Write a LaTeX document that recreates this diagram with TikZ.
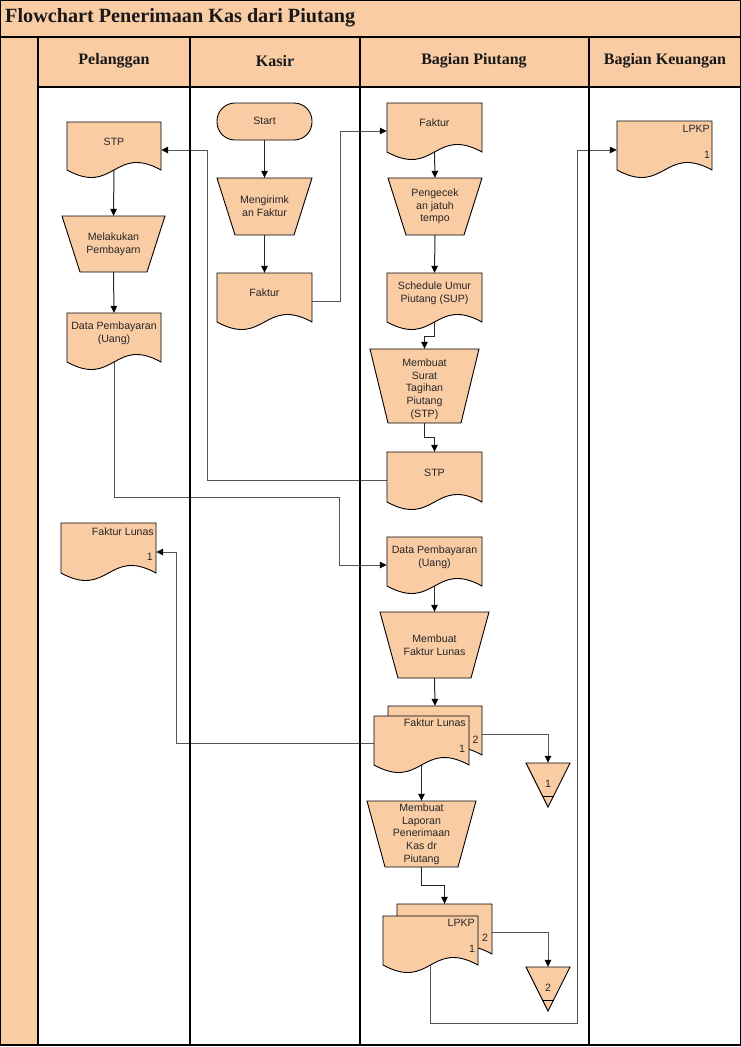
\documentclass[tikz,border=0pt]{standalone}
\usepackage{fontspec}
\setmainfont{Liberation Sans}
\newfontfamily\headfont{Liberation Serif}
\usetikzlibrary{arrows.meta,fit,calc}
\definecolor{peach}{RGB}{250,204,164}
\definecolor{conngray}{RGB}{85,85,85}
\pgfdeclarelayer{bg}
\pgfsetlayers{bg,main}
\tikzset{
  shp/.style={draw=black, fill=peach, line width=0.9pt},
  lane/.style={draw=black, line width=1.3pt},
  txt/.style={font=\fontsize{10.6}{12.7}\selectfont, align=center, inner sep=0pt, text=black!85},
  hdr/.style={font=\headfont\bfseries\fontsize{16}{18}\selectfont, inner sep=0pt, text=black!90},
  box/.style={inner sep=0pt, draw=none},
  conn/.style={draw=black!85, line width=1pt, -{Triangle[length=7pt,width=6.5pt,color=black]}},
  connl/.style={draw=conngray, line width=1pt, -{Triangle[length=7pt,width=6.5pt,color=black]}},
}
% document shape: l, t, r, b
\newcommand\docshape[4]{%
  \draw[shp] (#1,#2) -- (#3,#2) -- (#3,#4) .. controls ({(#1+#3)/2},{#4-26}) and ({(#1+#3)/2},{#4+26}) .. (#1,#4) -- cycle;}
\newcommand\docnode[6]{%
  \docshape{#2}{#3}{#4}{#5}
  \node[box, fit={(#2,#3) (#4,#5)}] (#1) {};
  \node[txt] (#1-t) at ({(#2+#4)/2},{(#3+#5)/2-4.5}) {#6};}
% trapezoid (manual operation): name, l, t, r, b, text, text y-offset
\newcommand\trapnode[7]{%
  \draw[shp] (#2,#3) -- (#4,#3) -- ({#4-18},#5) -- ({#2+18},#5) -- cycle;
  \node[box, fit={(#2,#3) (#4,#5)}] (#1) {};
  \node[txt] (#1-t) at ({(#2+#4)/2},{(#3+#5)/2+#7}) {#6};}
% off-page connector: name, cx, top, label
\newcommand\offpage[4]{%
  \draw[shp] ({#2-22},#3) -- ({#2+22},#3) -- (#2,{#3+44}) -- cycle;
  \draw[line width=0.8pt] ({#2-5.5},{#3+33}) -- ({#2+5.5},{#3+33});
  \node[box, fit={({#2-22},#3) ({#2+22},{#3+44})}] (#1) {};
  \node[txt] (#1-t) at (#2,{#3+21}) {#4};}
\begin{document}
\begin{tikzpicture}[x=1pt,y=-1pt]
\useasboundingbox (0,0) rectangle (741,1047);
% ---------- swimlane frame ----------
\fill[peach] (0,0) rectangle (741,87);
\fill[peach] (0,87) rectangle (38,1045);
\draw[lane] (0.6,0.6) rectangle (740.4,1045);
\draw[lane] (0,37) -- (741,37);
\draw[lane] (38,87) -- (741,87);
\draw[lane] (38,37) -- (38,1045);
\draw[lane] (190,37) -- (190,1045);
\draw[lane] (360,37) -- (360,1045);
\draw[lane] (589,37) -- (589,1045);
\node[hdr, anchor=west, font=\headfont\bfseries\fontsize{20.2}{22}\selectfont] (title) at (5,18) {Flowchart Penerimaan Kas dari Piutang};
\node[hdr] (h1) at (114,61) {Pelanggan};
\node[hdr] (h2) at (275,61) {Kasir};
\node[hdr] (h3) at (474,61) {Bagian Piutang};
\node[hdr] (h4) at (665,61) {Bagian Keuangan};
% ---------- Pelanggan ----------
\docnode{stpPel}{67}{122}{161}{170}{STP}
\trapnode{bayar}{62}{216}{165}{272}{Melakukan\\Pembayarn}{0}
\docnode{dataPel}{67}{313}{161}{362}{Data Pembayaran\\(Uang)}
\docshape{61}{523}{156}{573}
\node[box, fit={(61,523) (156,573)}] (flPel) {};
\node[txt, anchor=east] (flPel-t) at (154,532) {Faktur Lunas};
\node[txt, anchor=east] (flPel-n) at (153,557) {1};
% ---------- Kasir ----------
\draw[shp, rounded corners=18pt] (217,103) rectangle (312,140);
\node[box, fit={(217,103) (312,140)}] (start) {};
\node[txt] (start-t) at (264.5,121) {Start};
\trapnode{kirim}{217}{178}{312}{235}{Mengirimk\\an Faktur}{0}
\docnode{fakturK}{217}{273}{312}{322}{Faktur}
% ---------- Bagian Piutang ----------
\docnode{fakturP}{387}{103}{482}{152}{Faktur}
\trapnode{cek}{388}{178}{482}{235}{Pengecek\\an jatuh\\tempo}{0}
\docnode{sup}{387}{273}{482}{322}{Schedule Umur\\Piutang (SUP)}
\trapnode{mstp}{370}{349}{479}{423}{Membuat\\Surat\\Tagihan\\Piutang\\(STP)}{3}
\docnode{stpP}{387}{452}{482}{502}{STP}
\docnode{dataP}{387}{537}{482}{586}{Data Pembayaran\\(Uang)}
\trapnode{mfl}{380}{612}{489}{678}{Membuat\\Faktur Lunas}{0}
% Faktur Lunas (2 copies)
\docshape{388}{706}{482}{755}
\node[box, fit={(388,706) (482,755)}] (flBack) {};
\docshape{374}{716}{469}{765}
\node[box, fit={(374,716) (469,765)}] (flFront) {};
\node[txt, anchor=east] (flFront-t) at (466,723) {Faktur Lunas};
\node[txt] (flFront-n1) at (462,749) {1};
\node[txt] (flBack-n2) at (475.5,740) {2};
\offpage{off1}{548}{763}{1}
\trapnode{lap}{367}{801}{476}{867}{Membuat\\Laporan\\Penerimaan\\Kas dr\\Piutang}{0}
% LPKP (2 copies)
\docshape{397}{904}{492}{954}
\node[box, fit={(397,904) (492,954)}] (lpkpBack) {};
\docshape{383}{916}{478}{965}
\node[box, fit={(383,916) (478,965)}] (lpkpFront) {};
\node[txt, anchor=east] (lpkpFront-t) at (475,923) {LPKP};
\node[txt] (lpkpFront-n1) at (472,949) {1};
\node[txt] (lpkpBack-n2) at (485,938) {2};
\offpage{off2}{548}{967}{2}
% ---------- Bagian Keuangan ----------
\docshape{617}{121}{712}{170}
\node[box, fit={(617,121) (712,170)}] (lpkpK) {};
\node[txt, anchor=east] (lpkpK-t) at (710,129) {LPKP};
\node[txt] (lpkpK-n) at (707,155) {1};
% ---------- connectors ----------
\begin{pgfonlayer}{bg}
\draw[conn] (start.south) -- (kirim.north);
\draw[conn] (kirim.south) -- (fakturK.north);
\draw[connl] (fakturK.east) ++(0,3.5) -- ++(28,0) |- ($(fakturP.west)+(0,3.5)$);
\draw[conn] (fakturP.south) -- (cek.north);
\draw[conn] (cek.south) -- (sup.north);
\draw[conn] (sup.south) -- ++(0,14) -| (mstp.north);
\draw[conn] (mstp.south) -- ++(0,14) -| (stpP.north);
\draw[connl] ($(stpP.west)+(0,3)$) -| ($(stpPel.east)+(46,4)$) -- ($(stpPel.east)+(0,4)$);
\draw[conn] (stpPel.south) -- (bayar.north);
\draw[conn] (bayar.south) -- (dataPel.north);
\draw[connl] (dataPel.south) -- ++(0,135) -| ($(dataP.west)+(-47,3.5)$) -- ($(dataP.west)+(0,3.5)$);
\draw[conn] (dataP.south) -- (mfl.north);
\draw[conn] (mfl.south) -- (flBack.north);
\draw[connl] ($(flBack.east)+(0,3.5)$) -| (off1.north);
\draw[connl] ($(flFront.west)+(0,2.5)$) -| ($(flPel.east)+(20,4)$) -- ($(flPel.east)+(0,4)$);
\draw[conn] (flFront.south) -- (lap.north);
\draw[conn] (lap.south) -- ++(0,18) -| (lpkpBack.north);
\draw[connl] ($(lpkpBack.east)+(0,3)$) -| (off2.north);
\draw[connl] (lpkpFront.south) -- ++(0,58) -| ($(lpkpK.west)+(-39,4.5)$) -- ($(lpkpK.west)+(0,4.5)$);
\end{pgfonlayer}
\end{tikzpicture}
\end{document}
